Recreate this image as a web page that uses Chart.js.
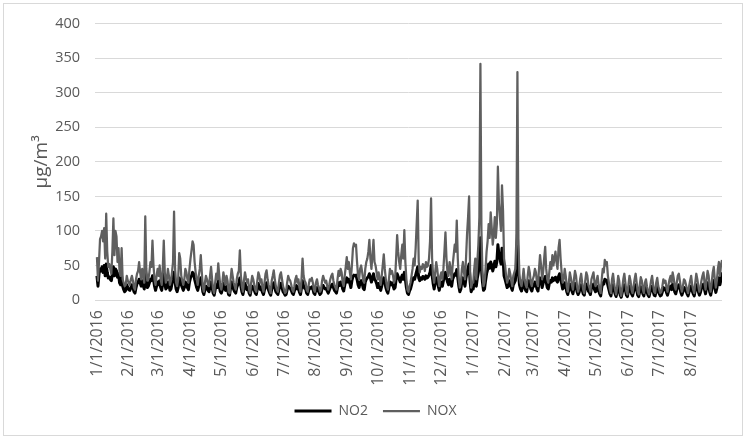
<!DOCTYPE html>
<html>
<head>
<meta charset="utf-8">
<script src="https://cdn.jsdelivr.net/npm/chart.js@4.4.0/dist/chart.umd.min.js"></script>
<style>
html,body{margin:0;padding:0;background:#fff;}
#wrap{position:relative;width:746px;height:441px;}
canvas{display:block;}
</style>
</head>
<body>
<div id="wrap"><canvas id="c" width="746" height="441"></canvas></div>
<script>
// Daily series, 1/1/2016 .. 8/31/2017 (one row per month)
const noxValues = [
  // 2016 Jan
  62,28,55,88,92,100,85,104,60,125,70,48,52,45,38,70,118,65,100,92,55,75,40,35,75,30,25,20,22,35,28,
  // Feb
  25,22,30,35,28,18,15,30,38,42,55,40,30,45,35,25,121,45,28,30,40,55,48,86,50,30,22,35,45,
  // Mar
  35,50,30,22,45,86,40,25,30,45,35,22,28,40,55,128,45,25,20,30,68,60,35,28,22,30,45,40,30,25,45,
  // Apr
  60,72,85,80,55,40,30,22,35,45,65,40,18,12,25,35,30,22,20,35,48,30,15,10,25,38,30,53,35,20,
  // May
  15,25,40,30,22,35,28,12,10,30,45,35,25,20,15,30,38,42,72,35,20,12,28,40,32,25,30,15,10,25,35,
  // Jun
  30,22,15,12,28,40,35,25,30,18,12,25,38,43,30,22,15,10,28,35,43,30,20,15,12,25,36,40,30,20,
  // Jul
  15,10,12,25,35,30,28,22,15,12,20,30,35,25,30,18,12,30,60,35,28,25,15,12,22,30,28,32,25,15,12,
  // Aug
  25,30,22,18,12,15,28,35,30,25,28,20,15,22,30,35,38,28,22,18,15,30,42,35,45,40,25,20,35,48,62,
  // Sep
  45,55,40,30,50,75,82,78,80,55,35,30,45,50,40,28,25,45,55,60,70,87,60,45,65,87,55,50,40,30,
  // Oct
  40,30,22,35,50,66,45,30,20,15,30,45,38,42,35,25,30,60,94,70,55,45,65,80,60,101,55,30,15,12,20,
  // Nov
  25,35,45,60,50,75,110,144,55,40,48,45,52,50,42,55,48,50,60,85,147,60,35,25,40,55,45,30,20,35,
  // Dec
  40,30,45,70,98,60,40,35,55,45,30,50,65,80,70,115,60,30,18,25,45,55,40,30,60,95,120,150,40,18,25,
  // 2017 Jan
  25,45,60,30,55,80,120,342,100,40,20,25,45,70,85,110,90,127,105,80,95,120,90,110,193,140,120,100,166,130,60,
  // Feb
  50,35,25,30,45,38,28,20,35,40,45,90,330,80,35,25,20,30,45,30,22,18,35,48,40,25,20,30,
  // Mar
  35,45,40,25,20,45,65,50,30,40,60,77,45,30,25,40,55,45,65,50,60,70,55,45,75,87,60,40,25,30,45,
  // Apr
  35,20,12,25,40,32,22,15,30,42,35,20,12,18,30,38,25,15,10,28,40,35,22,18,12,30,35,40,25,20,
  // May
  28,35,22,15,10,30,45,40,58,50,55,35,25,15,10,30,38,25,15,8,20,35,28,12,6,18,30,38,25,12,8,
  // Jun
  22,35,28,15,10,20,30,38,25,12,8,22,33,28,15,10,25,30,20,12,8,18,28,35,22,12,10,25,32,20,
  // Jul
  15,10,12,20,30,25,28,18,12,22,30,35,25,40,32,20,15,25,35,38,28,18,12,20,30,28,22,15,10,20,28,
  // Aug
  35,22,15,10,25,38,30,20,12,18,28,35,40,25,15,30,42,35,20,12,25,40,48,30,18,28,45,55,35,50,58
];

const no2Values = [
  // 2016 Jan
  35,20,38,45,42,48,40,50,35,52,40,32,33,30,28,38,48,35,45,42,33,38,25,22,35,20,15,12,14,22,18,
  // Feb
  15,14,18,22,18,12,10,18,24,25,30,25,20,28,22,16,45,28,18,20,25,30,28,35,30,20,14,20,26,
  // Mar
  22,28,18,14,25,38,24,16,18,26,22,14,16,24,30,40,26,16,12,18,32,30,22,18,14,18,26,24,18,15,26,
  // Apr
  32,35,40,38,30,24,18,14,20,26,32,24,12,8,15,20,18,14,12,20,26,18,10,7,15,22,18,28,20,12,
  // May
  10,15,24,18,14,20,16,8,7,18,26,20,15,12,10,18,22,24,32,20,12,8,16,24,19,15,18,10,7,15,20,
  // Jun
  18,14,10,8,16,24,20,15,18,11,8,15,22,25,18,14,10,7,16,20,25,18,12,10,8,15,21,24,18,12,
  // Jul
  10,7,8,15,20,18,17,14,10,8,13,18,21,16,18,11,8,18,28,20,17,16,10,8,14,18,17,19,16,10,8,
  // Aug
  16,18,14,11,8,10,17,21,18,16,17,13,10,14,18,21,23,18,14,12,10,18,25,21,26,24,16,13,21,28,32,
  // Sep
  26,30,24,18,28,34,36,35,36,30,22,18,26,28,24,17,15,26,30,32,34,38,32,26,32,38,30,28,24,18,
  // Oct
  24,18,14,20,28,32,26,18,13,10,18,26,22,25,21,16,18,30,38,34,30,26,32,36,30,40,30,18,10,8,13,
  // Nov
  16,22,28,32,30,36,42,48,32,28,32,30,34,33,30,35,32,33,36,40,50,36,24,16,26,32,28,20,14,22,
  // Dec
  26,20,28,34,40,32,26,22,30,28,20,30,34,38,36,44,32,20,12,16,28,32,26,20,32,40,46,52,26,12,16,
  // 2017 Jan
  16,28,34,20,32,40,52,90,45,26,14,16,28,38,44,52,46,55,50,42,48,56,48,55,80,66,60,52,75,62,35,
  // Feb
  30,24,18,20,28,24,18,14,22,25,28,50,95,40,22,16,13,19,27,19,14,12,22,28,25,16,13,19,
  // Mar
  20,26,24,16,13,26,32,28,18,24,30,34,26,18,16,24,28,26,32,28,30,33,28,26,34,38,30,24,16,18,25,
  // Apr
  20,12,8,15,23,19,13,9,18,24,20,12,8,11,18,22,15,9,7,17,23,20,13,11,8,18,20,23,15,12,
  // May
  16,20,13,9,6,18,25,23,30,28,29,21,15,9,6,18,22,15,9,5,12,20,16,7,4,11,18,22,15,7,5,
  // Jun
  13,20,16,9,6,12,18,22,15,7,5,13,19,16,9,6,15,18,12,7,5,11,16,20,13,7,6,15,19,12,
  // Jul
  9,6,7,12,18,15,17,11,7,13,18,20,15,23,19,12,9,15,20,22,17,11,7,12,18,17,13,9,6,12,17,
  // Aug
  20,13,9,6,15,22,18,12,7,11,17,21,23,15,9,18,25,21,12,7,15,24,28,18,11,17,27,32,22,30,40
];

const seriesNames = ['NO2', 'NOX'];
const tickLabels = ['1/1/2016','2/1/2016','3/1/2016','4/1/2016','5/1/2016','6/1/2016','7/1/2016',
  '8/1/2016','9/1/2016','10/1/2016','11/1/2016','12/1/2016','1/1/2017','2/1/2017','3/1/2017',
  '4/1/2017','5/1/2017','6/1/2017','7/1/2017','8/1/2017'];
const yTicks = [0,50,100,150,200,250,300,350,400];

// day categories (M/D/YYYY) built from the start date
const categories = [];
for (let i = 0; i < noxValues.length; i++) {
  const d = new Date(2016, 0, 1 + i);
  categories.push((d.getMonth() + 1) + '/' + d.getDate() + '/' + d.getFullYear());
}
const tickIndex = tickLabels.map(l => categories.indexOf(l));

const FONT = "'Open Sans', sans-serif";
const GREY_TEXT = '#595959';

const frame = {
  id: 'frame',
  beforeDraw(chart) {
    const ctx = chart.ctx;
    ctx.save();
    ctx.fillStyle = '#fff';
    ctx.fillRect(0, 0, chart.width, chart.height);
    ctx.strokeStyle = '#d9d9d9';
    ctx.lineWidth = 1;
    ctx.strokeRect(3.5, 3.5, 739, 432);
    ctx.restore();
  }
};

new Chart(document.getElementById('c'), {
  type: 'line',
  data: {
    datasets: [
      { label: seriesNames[0], data: no2Values.map((v, i) => ({x: i, y: v})),
        borderColor: '#000000', backgroundColor: '#000000', borderWidth: 3, order: 2 },
      { label: seriesNames[1], data: noxValues.map((v, i) => ({x: i, y: v})),
        borderColor: '#5f5f5f', backgroundColor: '#5f5f5f', borderWidth: 2.25, order: 1 }
    ]
  },
  options: {
    responsive: false,
    devicePixelRatio: 1,
    animation: false,
    parsing: false,
    normalized: true,
    elements: { point: { radius: 0, hoverRadius: 0 }, line: { tension: 0, borderJoinStyle: 'round' } },
    layout: { padding: { left: 29, right: 24, top: 23, bottom: 13 } },
    plugins: {
      tooltip: { enabled: false },
      legend: {
        position: 'bottom',
        labels: {
          usePointStyle: true, pointStyle: 'line', pointStyleWidth: 37,
          padding: 15, color: GREY_TEXT, font: { family: FONT, size: 14 },
          sort: (a, b) => a.datasetIndex - b.datasetIndex
        }
      }
    },
    scales: {
      x: {
        type: 'linear',
        min: -1.9,
        max: noxValues.length - 1,
        grid: { display: false, drawTicks: false },
        border: { display: false },
        afterBuildTicks(scale) { scale.ticks = tickIndex.map(v => ({ value: v })); },
        afterFit(scale) { scale.height = 89; },
        ticks: {
          autoSkip: false, maxRotation: 90, minRotation: 90, padding: 10,
          color: GREY_TEXT, font: { family: FONT, size: 16 },
          callback: (v) => tickLabels[tickIndex.indexOf(v)]
        }
      },
      y: {
        min: 0, max: 400,
        afterBuildTicks(scale) { scale.ticks = yTicks.map(v => ({ value: v })); },
        afterFit(scale) { scale.width = 66; },
        grid: { color: '#d9d9d9', lineWidth: 1, drawTicks: false },
        border: { display: false },
        ticks: { padding: 15, color: GREY_TEXT, font: { family: FONT, size: 14.5 } },
        title: { display: true, text: 'µg/m³', color: GREY_TEXT, font: { family: FONT, size: 19 }, padding: { top: 1, bottom: 0 } }
      }
    }
  },
  plugins: [frame]
});
</script>
</body>
</html>
